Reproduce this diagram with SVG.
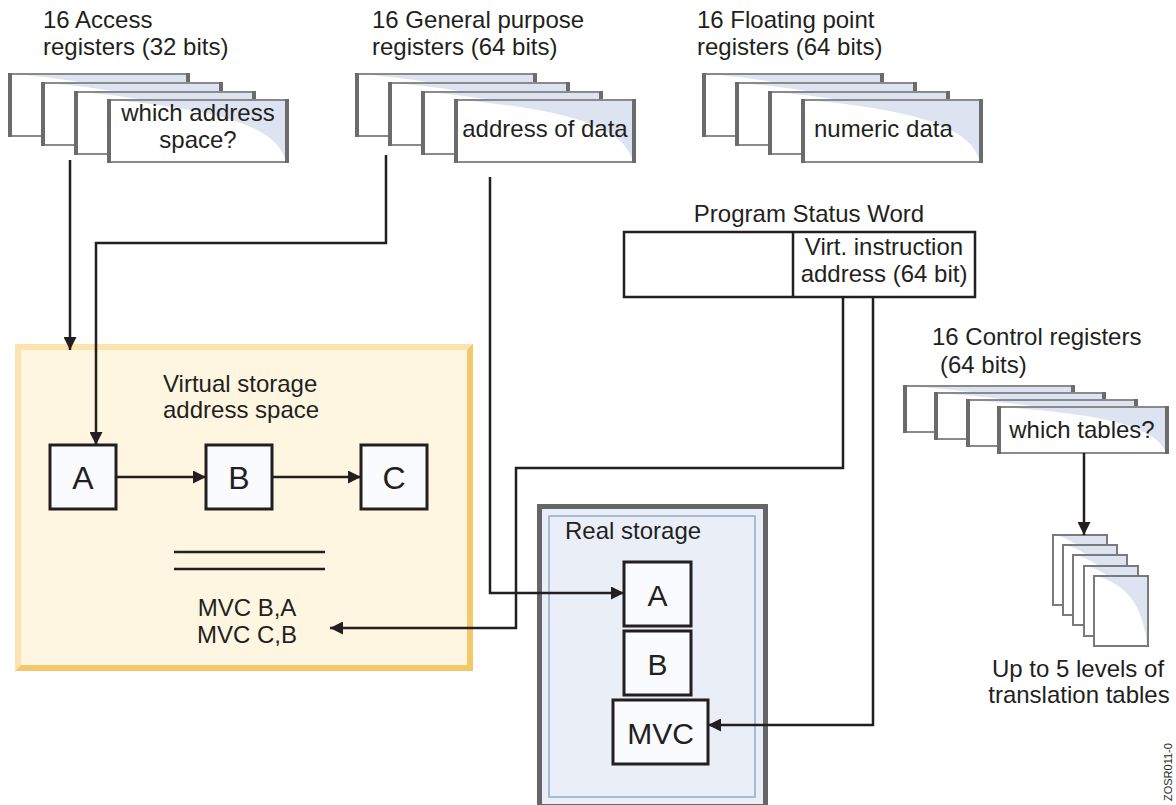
<svg xmlns="http://www.w3.org/2000/svg" width="1176" height="805" viewBox="0 0 1176 805">
<defs>
<style>
text{font-family:"Liberation Sans",Arial,Helvetica,sans-serif;fill:#231f20;font-size:24px}
.reg{fill:#fff;stroke:#8a8a8a;stroke-width:2}
.side{stroke:#6b6b6b;stroke-width:4}
.shade{fill:#dde3f0}
.box{fill:#fafbfe;stroke:#231f20;stroke-width:3}
.con{fill:none;stroke:#231f20;stroke-width:2.5}
.tbl{fill:#fff;stroke:#7a7a7a;stroke-width:2}
.big{font-size:32px}
</style>
<marker id="ah" markerWidth="13" markerHeight="13" viewBox="0 0 13 13" refX="13" refY="6.5" orient="auto" markerUnits="userSpaceOnUse">
<path d="M0,0 L13,6.5 L0,13 Z" fill="#231f20"/>
</marker>
<g id="regcard">
<rect class="reg" x="0" y="0" width="178" height="62"/>
<path class="shade" d="M14,1 L177,1 L177,61 C170,40 150,14 14,1 Z"/>
<line class="side" x1="0" y1="-1" x2="0" y2="63"/>
<line class="side" x1="178" y1="-1" x2="178" y2="63"/>
</g>
<g id="ctlcard">
<rect class="reg" x="0" y="0" width="168" height="46"/>
<path class="shade" d="M14,1 L167,1 L167,45 C160,30 140,10 14,1 Z"/>
<line class="side" x1="0" y1="-1" x2="0" y2="47"/>
<line class="side" x1="168" y1="-1" x2="168" y2="47"/>
</g>
<g id="tblcard">
<rect class="tbl" x="0" y="0" width="54" height="70"/>
<path class="shade" d="M6,1 L53,1 L53,69 C50,40 40,12 6,1 Z"/>
</g>
</defs>
<rect width="1176" height="805" fill="#fff"/>

<g id="access-registers">
<text x="43" y="28">16 Access</text>
<text x="43" y="55">registers (32 bits)</text>
<use href="#regcard" x="10" y="74"/>
<use href="#regcard" x="43" y="83"/>
<use href="#regcard" x="76" y="92"/>
<use href="#regcard" x="109" y="100"/>
<text x="198" y="121" text-anchor="middle">which address</text>
<text x="198" y="148" text-anchor="middle">space?</text>
</g>

<g id="gp-registers">
<text x="372" y="28">16 General purpose</text>
<text x="372" y="55">registers (64 bits)</text>
<use href="#regcard" x="357" y="74"/>
<use href="#regcard" x="390" y="83"/>
<use href="#regcard" x="423" y="92"/>
<use href="#regcard" x="456" y="100"/>
<text x="545" y="137" text-anchor="middle">address of data</text>
</g>

<g id="fp-registers">
<text x="697" y="28">16 Floating point</text>
<text x="697" y="55">registers (64 bits)</text>
<use href="#regcard" x="704" y="74"/>
<use href="#regcard" x="737" y="83"/>
<use href="#regcard" x="770" y="92"/>
<use href="#regcard" x="803" y="100"/>
<text x="814" y="137">numeric data</text>
</g>

<g id="psw">
<text x="809" y="222" text-anchor="middle">Program Status Word</text>
<rect x="624" y="232" width="351" height="65" fill="#fff" stroke="#231f20" stroke-width="2.5"/>
<line x1="793" y1="232" x2="793" y2="297" stroke="#231f20" stroke-width="2.5"/>
<text x="884" y="255" text-anchor="middle">Virt. instruction</text>
<text x="884" y="282" text-anchor="middle">address (64 bit)</text>
</g>

<g id="control-registers">
<text x="932" y="345">16 Control registers</text>
<text x="940" y="373">(64 bits)</text>
<use href="#ctlcard" x="905" y="386"/>
<use href="#ctlcard" x="936" y="393"/>
<use href="#ctlcard" x="968" y="400"/>
<use href="#ctlcard" x="999" y="407"/>
<text x="1082" y="438" text-anchor="middle">which tables?</text>
</g>

<g id="translation-tables">
<use href="#tblcard" x="1053" y="535"/>
<use href="#tblcard" x="1063" y="545"/>
<use href="#tblcard" x="1073" y="555"/>
<use href="#tblcard" x="1084" y="566"/>
<use href="#tblcard" x="1094" y="576"/>
<text x="1078" y="677" text-anchor="middle">Up to 5 levels of</text>
<text x="1079" y="703" text-anchor="middle">translation tables</text>
</g>

<g id="virtual-storage">
<rect x="15" y="344" width="458" height="327" fill="#f3c868"/>
<polygon points="15,344 473,344 467,350 21,350 21,665 15,671" fill="#fde3b0"/>
<rect x="21" y="350" width="446" height="315" fill="#fef6e1"/>
<text x="163" y="392">Virtual storage</text>
<text x="163" y="418">address space</text>
<line x1="174" y1="552" x2="325" y2="552" stroke="#231f20" stroke-width="2.5"/>
<line x1="174" y1="569" x2="325" y2="569" stroke="#231f20" stroke-width="2.5"/>
<text x="247" y="616" text-anchor="middle">MVC B,A</text>
<text x="247" y="643" text-anchor="middle">MVC C,B</text>
</g>
<g id="v-A"><rect class="box" x="50" y="445" width="66" height="64"/><text class="big" x="83" y="489" text-anchor="middle">A</text></g>
<g id="v-B"><rect class="box" x="206" y="445" width="66" height="64"/><text class="big" x="239" y="489" text-anchor="middle">B</text></g>
<g id="v-C"><rect class="box" x="361" y="445" width="66" height="64"/><text class="big" x="394" y="489" text-anchor="middle">C</text></g>

<g id="real-storage">
<rect x="539.5" y="506.5" width="226" height="300" fill="#eaeff7" stroke="#666" stroke-width="5"/>
<rect x="549" y="516" width="206" height="281" fill="#eaeff7" stroke="#a9b9d8" stroke-width="2"/>
<text x="565" y="539">Real storage</text>
</g>
<g id="r-A"><rect class="box" x="624" y="562" width="67" height="64"/><text x="657.5" y="606" text-anchor="middle" style="font-size:30px">A</text></g>
<g id="r-B"><rect class="box" x="624" y="631" width="67" height="64"/><text x="657.5" y="675" text-anchor="middle" style="font-size:30px">B</text></g>
<g id="r-MVC"><rect class="box" x="613" y="700" width="95" height="64"/><text x="660.5" y="744" text-anchor="middle" style="font-size:30px">MVC</text></g>

<g id="connectors">
<path class="con" d="M70,160 V350" marker-end="url(#ah)"/>
<path class="con" d="M386,155 V243 H96 V445" marker-end="url(#ah)"/>
<path class="con" d="M490,177 V593 H624" marker-end="url(#ah)"/>
<path class="con" d="M843,297 V468 H516 V628 H330" marker-end="url(#ah)"/>
<path class="con" d="M873,297 V725 H708" marker-end="url(#ah)"/>
<path class="con" d="M116,477 H206" marker-end="url(#ah)"/>
<path class="con" d="M272,477 H361" marker-end="url(#ah)"/>
<path class="con" d="M1084,453 V535" marker-end="url(#ah)"/>
</g>

<text transform="translate(1172,801) rotate(-90)" style="font-size:11px">ZOSR011-0</text>
</svg>
